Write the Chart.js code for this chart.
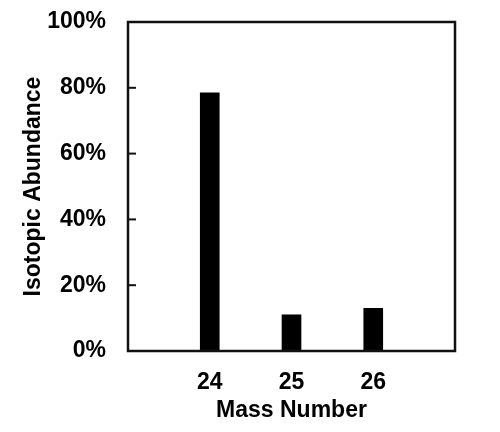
<!DOCTYPE html>
<html>
<head>
<meta charset="utf-8">
<script src="https://cdn.jsdelivr.net/npm/chart.js@4/dist/chart.umd.min.js"></script>
<style>
  html, body { margin: 0; padding: 0; background: #fff; }
  #wrap { width: 500px; height: 432px; position: relative; }
</style>
</head>
<body>
<div id="wrap"><canvas id="chart"></canvas></div>
<script>
const massNumbers = [24, 25, 26];
const abundance = [78.5, 11, 13];
const yTicks = [0, 20, 40, 60, 80, 100];

const font = { family: "'Liberation Sans', Arial, sans-serif", size: 23, weight: "bold" };

// box round the plot and small inward ticks on the y axis
const framePlugin = {
  id: "frame",
  afterDraw(chart) {
    const { ctx, chartArea } = chart;
    const y = chart.scales.y;
    ctx.save();
    ctx.strokeStyle = "#111";
    ctx.lineWidth = 2.5;
    ctx.strokeRect(chartArea.left, chartArea.top, chartArea.right - chartArea.left, chartArea.bottom - chartArea.top);
    ctx.lineWidth = 2;
    yTicks.forEach((v) => {
      const py = y.getPixelForValue(v);
      ctx.beginPath();
      ctx.moveTo(chartArea.left, py);
      ctx.lineTo(chartArea.left + 8, py);
      ctx.stroke();
    });
    ctx.restore();
  },
};

function noEdgePadding(scale) {
  scale.paddingTop = 0;
  scale.paddingBottom = 0;
  scale.paddingLeft = 0;
  scale.paddingRight = 0;
}

new Chart(document.getElementById("chart"), {
  type: "bar",
  data: {
    datasets: [
      {
        data: massNumbers.map((m, i) => ({ x: m, y: abundance[i] })),
        backgroundColor: "#000",
        borderWidth: 0,
        barThickness: 19,
      },
    ],
  },
  options: {
    responsive: true,
    maintainAspectRatio: false,
    animation: false,
    layout: { padding: { left: 0, top: 22, right: 45, bottom: 0 } },
    plugins: { legend: { display: false }, tooltip: { enabled: false } },
    scales: {
      x: {
        type: "linear",
        min: 23,
        max: 27,
        offset: false,
        grid: { display: false, offset: false },
        border: { display: false },
        afterBuildTicks: (scale) => {
          scale.ticks = massNumbers.map((v) => ({ value: v }));
        },
        afterFit: (scale) => {
          scale.height = 81;
          noEdgePadding(scale);
        },
        ticks: { color: "#000", font: font, padding: 10, maxRotation: 0 },
        title: {
          display: true,
          text: "Mass Number",
          color: "#000",
          font: font,
          padding: { top: 0, bottom: 8 },
        },
      },
      y: {
        min: 0,
        max: 100,
        grid: { display: false },
        border: { display: false },
        afterBuildTicks: (scale) => {
          scale.ticks = yTicks.map((v) => ({ value: v }));
        },
        afterFit: (scale) => {
          scale.width = 128;
          noEdgePadding(scale);
        },
        ticks: { color: "#000", font: font, padding: 14, callback: (v) => v + "%" },
        title: {
          display: true,
          text: "Isotopic Abundance",
          color: "#000",
          font: font,
          padding: { top: 20, bottom: 0 },
        },
      },
    },
  },
  plugins: [framePlugin],
});
</script>
</body>
</html>
